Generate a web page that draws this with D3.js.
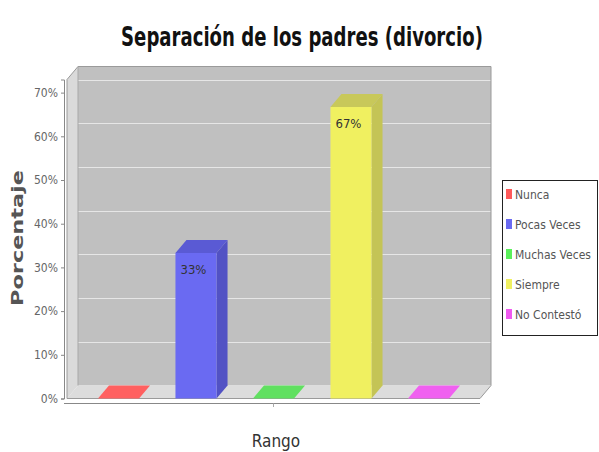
<!DOCTYPE html>
<html>
<head>
<meta charset="utf-8">
<script src="https://cdn.jsdelivr.net/npm/d3@7"></script>
<style>
  html, body { margin: 0; padding: 0; background: #ffffff; }
  svg { display: block; }
</style>
</head>
<body>
<svg id="chart" width="599" height="452"></svg>
<script>
// ---- data ----
const categories = ["Nunca", "Pocas Veces", "Muchas Veces", "Siempre", "No Contestó"];
const values = [0, 33.3, 0, 66.7, 0];
const valueLabels = ["", "33%", "", "67%", ""];
const colors = ["#ff5a5a", "#6a6af2", "#5af05a", "#f0f060", "#f05af0"];
const sideColors = ["#c84848", "#5252c4", "#48c048", "#c4c456", "#c048c0"];
const topColors = ["#ff6060", "#5a5ad4", "#60e060", "#c8c85a", "#f060f0"];
const yTicks = [0, 10, 20, 30, 40, 50, 60, 70];
const title = "Separación de los padres (divorcio)";
const xTitle = "Rango";
const yTitle = "Porcentaje";

// ---- layout ----
const svg = d3.select("#chart");
const dx = 11, dy = 13;
const left = 67, right = 480;
const y = d3.scaleLinear().domain([0, 73]).range([398.5, 79.5]);
const x = d3.scaleBand().domain(categories).range([79.75, 467.25]).paddingInner(0.47).paddingOuter(0.235);
const narrow = "'DejaVu Sans Condensed', 'Liberation Sans Narrow', sans-serif";

const y0 = y(0), yTop = y(73);

// walls
svg.append("polygon") // back wall
  .attr("points", [[left+dx, yTop-dy], [right+dx, yTop-dy], [right+dx, y0-dy], [left+dx, y0-dy]].join(" "))
  .attr("fill", "#c0c0c0");
svg.append("polygon") // left wall
  .attr("points", [[left, yTop], [left+dx, yTop-dy], [left+dx, y0-dy], [left, y0]].join(" "))
  .attr("fill", "#dadada");
svg.append("polygon") // floor
  .attr("points", [[left, y0], [left+dx, y0-dy], [right+dx, y0-dy], [right, y0]].join(" "))
  .attr("fill", "#dcdcdc");

// gridlines on back wall
svg.append("g").selectAll("line").data(yTicks.filter(t => t > 0)).join("line")
  .attr("x1", left+dx).attr("x2", right+dx)
  .attr("y1", d => Math.round(y(d)-dy)+0.5).attr("y2", d => Math.round(y(d)-dy)+0.5)
  .attr("stroke", "#e6e6e6").attr("stroke-width", 1);

// outline
svg.append("polygon")
  .attr("points", [[left, yTop], [left+dx, yTop-dy], [right+dx, yTop-dy], [right+dx, y0-dy], [right, y0], [left, y0]].join(" "))
  .attr("fill", "none").attr("stroke", "#9a9a9a").attr("stroke-width", 1);
svg.append("line").attr("x1", left+dx).attr("x2", left+dx).attr("y1", yTop-dy).attr("y2", y0-dy)
  .attr("stroke", "#a8a8a8");

// bars
const bars = svg.append("g").selectAll("g").data(categories).join("g");
bars.each(function(c, i) {
  const g = d3.select(this);
  const x0 = x(c), w = x.bandwidth(), yv = y(values[i]);
  g.append("polygon")
    .attr("points", [[x0+w, yv], [x0+w+dx, yv-dy], [x0+w+dx, y0-dy], [x0+w, y0]].join(" "))
    .attr("fill", sideColors[i]);
  g.append("polygon")
    .attr("points", [[x0, yv], [x0+dx, yv-dy], [x0+w+dx, yv-dy], [x0+w, yv]].join(" "))
    .attr("fill", topColors[i]);
  g.append("rect").attr("x", x0).attr("y", yv).attr("width", w).attr("height", y0 - yv)
    .attr("fill", colors[i]);
  if (valueLabels[i]) {
    g.append("text").attr("x", x0 + 5).attr("y", yv + 21)
      .attr("font-family", narrow).attr("font-size", 13).attr("fill", "#333")
      .text(valueLabels[i]);
  }
});

// y axis
const yAxis = svg.append("g").attr("transform", `translate(${left-3},0)`)
  .call(d3.axisLeft(y).tickValues(yTicks).tickFormat(d => d + "%").tickSize(3).tickPadding(3));
yAxis.select(".domain").attr("stroke", "#888");
yAxis.selectAll(".tick line").attr("stroke", "#888");
yAxis.selectAll("text").attr("font-family", narrow).attr("font-size", 12).attr("fill", "#666");

// x axis line
svg.append("line").attr("x1", left-3).attr("x2", right).attr("y1", 403.5).attr("y2", 403.5)
  .attr("stroke", "#888");
svg.append("line").attr("x1", 273.5).attr("x2", 273.5).attr("y1", 403.5).attr("y2", 407)
  .attr("stroke", "#aaa");

// title (scaled horizontally to the reference width)
const tg = svg.append("g");
const tt = tg.append("text").attr("x", 0).attr("y", 0).attr("text-anchor", "middle")
  .attr("font-family", narrow).attr("font-weight", "bold").attr("font-size", 27).attr("fill", "#111")
  .text(title);
const tw = tt.node().getComputedTextLength();
tg.attr("transform", `translate(302,46) scale(${Math.min(1, 362 / tw)},1)`);

svg.append("text").attr("x", 276).attr("y", 447).attr("text-anchor", "middle")
  .attr("font-family", narrow).attr("font-size", 17).attr("fill", "#333")
  .text(xTitle);

// y title, stretched along its length like the reference
const yg = svg.append("g");
const yt = yg.append("text").attr("x", 0).attr("y", 0).attr("text-anchor", "middle")
  .attr("font-family", "'DejaVu Sans', sans-serif").attr("font-weight", "bold").attr("font-size", 15).attr("fill", "#555")
  .text(yTitle);
const yw = yt.node().getComputedTextLength();
yg.attr("transform", `translate(23,238) rotate(-90) scale(${136 / yw},1)`);

// legend
const legend = svg.append("g");
legend.append("rect").attr("x", 502.5).attr("y", 180.5).attr("width", 95).attr("height", 155)
  .attr("fill", "#fff").attr("stroke", "#222").attr("stroke-width", 1);
const items = legend.selectAll("g").data(categories).join("g")
  .attr("transform", (d, i) => `translate(506, ${195 + i * 30})`);
items.append("rect").attr("x", 0).attr("y", -6).attr("width", 6).attr("height", 10)
  .attr("fill", (d, i) => colors[i]);
items.append("text").attr("x", 9).attr("y", 4)
  .attr("font-family", narrow).attr("font-size", 12).attr("fill", "#555")
  .text(d => d);
</script>
</body>
</html>
